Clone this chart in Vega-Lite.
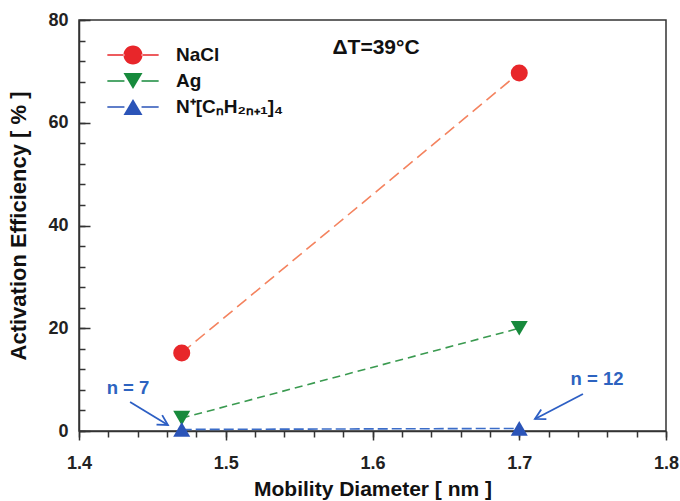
{
  "$schema": "https://vega.github.io/schema/vega-lite/v6.json",
  "width": 587,
  "height": 411,
  "autosize": "none",
  "padding": {"left": 79, "top": 20, "right": 14, "bottom": 70},
  "background": "white",
  "config": {
    "font": "Liberation Sans",
    "view": {"stroke": "#333", "strokeWidth": 1.5},
    "axis": {
      "grid": false,
      "ticks": true,
      "labelFlush": false,
      "labelOverlap": false,
      "labelFontSize": 18,
      "labelFontWeight": "bold",
      "labelColor": "#222",
      "domainColor": "#333",
      "domainWidth": 1.5,
      "tickColor": "#333",
      "tickWidth": 1.5,
      "titleFontSize": 21,
      "titleFontWeight": "bold",
      "titleColor": "#111"
    }
  },
  "datasets": {
    "eff": [
      {"series": "NaCl", "d": 1.47, "eff": 15.2},
      {"series": "NaCl", "d": 1.70, "eff": 69.7},
      {"series": "Ag", "d": 1.47, "eff": 2.5},
      {"series": "Ag", "d": 1.70, "eff": 20.0},
      {"series": "N⁺[CₙH₂ₙ₊₁]₄", "d": 1.47, "eff": 0.3},
      {"series": "N⁺[CₙH₂ₙ₊₁]₄", "d": 1.70, "eff": 0.5}
    ],
    "notes": [
      {"label": "n = 7", "d": 1.4334, "eff": 8.4},
      {"label": "n = 12", "d": 1.753, "eff": 10.1}
    ],
    "arrows": [
      {"id": "n7", "d": 1.4348, "eff": 5.64, "d2": 1.4606, "eff2": 1.17},
      {"id": "n12", "d": 1.7434, "eff": 7.2, "d2": 1.7107, "eff2": 2.34}
    ]
  },
  "resolve": {"axis": {"x": "independent", "y": "independent"}},
  "layer": [
    {
      "data": {"name": "eff"},
      "transform": [{"filter": "datum.series === 'NaCl'"}],
      "mark": {"type": "line", "strokeWidth": 1.6, "stroke": "#f4835f", "strokeDash": [12, 6]},
      "encoding": {
        "x": {
          "field": "d", "type": "quantitative",
          "scale": {"domain": [1.4, 1.8], "nice": false, "zero": false},
          "axis": {
            "orient": "bottom",
            "title": "Mobility Diameter [ nm ]",
            "values": [1.4, 1.5, 1.6, 1.7, 1.8],
            "format": ".1f",
            "tickSize": 9,
            "labelPadding": 14,
            "titlePadding": 6
          }
        },
        "y": {
          "field": "eff", "type": "quantitative",
          "scale": {"domain": [0, 80], "nice": false},
          "axis": {
            "orient": "left",
            "title": "Activation Efficiency [ % ]",
            "titleFontSize": 22,
            "titleX": -49,
            "titleY": 205.5,
            "values": [0, 20, 40, 60, 80],
            "tickSize": -11,
            "labelPadding": 22,
            "titlePadding": 3
          }
        }
      }
    },
    {
      "data": {"name": "eff"},
      "transform": [{"filter": "datum.series === 'Ag'"}],
      "mark": {"type": "line", "strokeWidth": 1.6, "stroke": "#3a9a50", "strokeDash": [8, 5]},
      "encoding": {
        "x": {
          "field": "d", "type": "quantitative",
          "axis": {
            "orient": "bottom",
            "title": null,
            "values": [1.4, 1.42, 1.44, 1.46, 1.48, 1.5, 1.52, 1.54, 1.56, 1.58, 1.6, 1.62, 1.64, 1.66, 1.68, 1.7, 1.72, 1.74, 1.76, 1.78, 1.8],
            "labels": false,
            "domain": false,
            "tickSize": 6
          }
        },
        "y": {
          "field": "eff", "type": "quantitative",
          "axis": {
            "orient": "left",
            "title": null,
            "values": [0, 4, 8, 12, 16, 20, 24, 28, 32, 36, 40, 44, 48, 52, 56, 60, 64, 68, 72, 76, 80],
            "labels": false,
            "domain": false,
            "tickSize": -6
          }
        }
      }
    },
    {
      "data": {"name": "eff"},
      "transform": [{"filter": "datum.series === 'N⁺[CₙH₂ₙ₊₁]₄'"}],
      "mark": {"type": "line", "strokeWidth": 1.6, "stroke": "#3b6cc8", "strokeDash": [10, 4]},
      "encoding": {
        "x": {"field": "d", "type": "quantitative", "axis": null},
        "y": {"field": "eff", "type": "quantitative", "axis": null}
      }
    },
    {
      "data": {"name": "eff"},
      "transform": [{"filter": "datum.series === 'NaCl'"}],
      "mark": {"type": "point", "shape": "circle", "filled": true, "opacity": 1, "size": 290},
      "encoding": {
        "x": {"field": "d", "type": "quantitative", "axis": null},
        "y": {"field": "eff", "type": "quantitative", "axis": null},
        "color": {
          "field": "series", "type": "nominal",
          "scale": {"domain": ["NaCl", "Ag", "N⁺[CₙH₂ₙ₊₁]₄"], "range": ["#e8262a", "#178a3c", "#2b54b8"]},
          "legend": {
            "title": null,
            "orient": "none",
            "legendX": 44.5,
            "legendY": 25.5,
            "padding": 0,
            "symbolSize": 361,
            "symbolOpacity": 1,
            "symbolStrokeWidth": 0,
            "rowPadding": 6,
            "labelOffset": 33.5,
            "labelFontSize": 19,
            "labelFontWeight": "bold",
            "labelColor": "#111",
            "labelLimit": 300
          }
        }
      }
    },
    {
      "data": {"name": "eff"},
      "transform": [{"filter": "datum.series === 'Ag'"}],
      "mark": {"type": "point", "shape": "triangle-down", "filled": true, "opacity": 1, "size": 290},
      "encoding": {
        "x": {"field": "d", "type": "quantitative", "axis": null},
        "y": {"field": "eff", "type": "quantitative", "axis": null},
        "color": {"field": "series", "type": "nominal"}
      }
    },
    {
      "data": {"name": "eff"},
      "transform": [{"filter": "datum.series === 'N⁺[CₙH₂ₙ₊₁]₄'"}],
      "mark": {"type": "point", "shape": "triangle-up", "filled": true, "opacity": 1, "size": 290},
      "encoding": {
        "x": {"field": "d", "type": "quantitative", "axis": null},
        "y": {"field": "eff", "type": "quantitative", "axis": null},
        "color": {"field": "series", "type": "nominal"}
      }
    },
    {
      "data": {"name": "eff"},
      "mark": {"type": "point", "filled": true, "opacity": 0, "size": 0},
      "encoding": {
        "x": {"field": "d", "type": "quantitative", "axis": null},
        "y": {"field": "eff", "type": "quantitative", "axis": null},
        "color": {"field": "series", "type": "nominal"},
        "shape": {
          "field": "series", "type": "nominal",
          "scale": {
            "domain": ["NaCl", "Ag", "N⁺[CₙH₂ₙ₊₁]₄"],
            "range": [
              "M-2.7,-0.08H-0.9V0.08H-2.7ZM0.9,-0.08H2.7V0.08H0.9ZM-1,0A1,1 0 1,0 1,0A1,1 0 1,0 -1,0Z",
              "M-2.7,-0.08H-0.9V0.08H-2.7ZM0.9,-0.08H2.7V0.08H0.9ZM-1,-0.85L1,-0.85L0,0.85Z",
              "M-2.7,-0.08H-0.9V0.08H-2.7ZM0.9,-0.08H2.7V0.08H0.9ZM-1,0.85L1,0.85L0,-0.85Z"
            ]
          }
        }
      }
    },
    {
      "data": {"name": "notes"},
      "mark": {"type": "text", "fontSize": 18.5, "fontWeight": "bold", "color": "#2d63c0"},
      "encoding": {
        "x": {"field": "d", "type": "quantitative", "axis": null},
        "y": {"field": "eff", "type": "quantitative", "axis": null},
        "text": {"field": "label"}
      }
    },
    {
      "data": {"values": [{"label": "ΔT=39°C", "d": 1.6024, "eff": 74.5}]},
      "mark": {"type": "text", "fontSize": 21, "fontWeight": "bold", "color": "#111"},
      "encoding": {
        "x": {"field": "d", "type": "quantitative", "axis": null},
        "y": {"field": "eff", "type": "quantitative", "axis": null},
        "text": {"field": "label"}
      }
    },
    {
      "data": {"name": "arrows"},
      "mark": {"type": "rule", "color": "#2d5fc4", "strokeWidth": 1.8},
      "encoding": {
        "x": {"field": "d", "type": "quantitative", "axis": null},
        "y": {"field": "eff", "type": "quantitative", "axis": null},
        "x2": {"field": "d2"},
        "y2": {"field": "eff2"}
      }
    },
    {
      "data": {"name": "arrows"},
      "transform": [{"filter": "datum.id === 'n7'"}],
      "mark": {"type": "point", "shape": "M-1,-0.55L0,0L-1,0.55", "filled": false, "stroke": "#2d5fc4", "strokeWidth": 1.8, "size": 400, "angle": 31, "opacity": 1},
      "encoding": {
        "x": {"field": "d2", "type": "quantitative", "axis": null},
        "y": {"field": "eff2", "type": "quantitative", "axis": null}
      }
    },
    {
      "data": {"name": "arrows"},
      "transform": [{"filter": "datum.id === 'n12'"}],
      "mark": {"type": "point", "shape": "M-1,-0.55L0,0L-1,0.55", "filled": false, "stroke": "#2d5fc4", "strokeWidth": 1.8, "size": 400, "angle": 152, "opacity": 1},
      "encoding": {
        "x": {"field": "d2", "type": "quantitative", "axis": null},
        "y": {"field": "eff2", "type": "quantitative", "axis": null}
      }
    }
  ]
}
